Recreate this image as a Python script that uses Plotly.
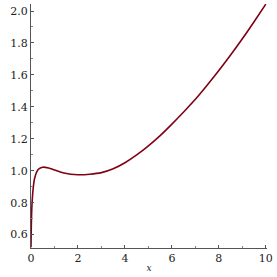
import plotly.graph_objects as go

x_vals = [0, 0.02, 0.05, 0.1, 0.15, 0.25, 0.35, 0.5, 0.75, 1.0, 1.4, 2.0, 2.5, 3.0, 3.5, 4.0,
          4.5, 5.0, 5.5, 6.0, 6.5, 7.0, 7.5, 8.0, 8.5, 9.0, 9.5, 10.0]
y_vals = [0.52, 0.70, 0.81, 0.90, 0.95, 0.995, 1.013, 1.022, 1.017, 1.005, 0.986, 0.975, 0.978,
          0.988, 1.012, 1.05, 1.099, 1.156, 1.22, 1.292, 1.368, 1.447, 1.535, 1.627, 1.724, 1.826,
          1.933, 2.043]
x_ticks = [0, 2, 4, 6, 8, 10]
y_ticks = [0.6, 0.8, 1.0, 1.2, 1.4, 1.6, 1.8, 2.0]

fig = go.Figure()
fig.add_trace(go.Scatter(x=x_vals, y=y_vals, mode="lines",
                         line=dict(color="#800014", width=1.6, shape="spline", smoothing=0.8)))

serif = "DejaVu Serif"
fig.update_layout(
    width=277, height=277,
    margin=dict(l=31, r=10, t=4, b=29),
    plot_bgcolor="white", paper_bgcolor="white",
    showlegend=False,
    font=dict(family=serif, size=11, color="#222"),
)
fig.update_xaxes(range=[0, 10.05], tickvals=x_ticks, ticktext=[str(v) for v in x_ticks],
                 automargin=False,
                 showgrid=False, zeroline=False, showline=True, linecolor="#555", linewidth=1,
                 ticks="inside", ticklen=3, tickcolor="#555",
                 minor=dict(dtick=1, ticks="inside", ticklen=2, tickcolor="#888"),
                 title=dict(text="<i>x</i>", font=dict(family=serif, size=9), standoff=0))
fig.update_yaxes(range=[0.516, 2.044], tickvals=y_ticks, ticktext=["%.1f" % v for v in y_ticks],
                 automargin=False,
                 showgrid=False, zeroline=False, showline=True, linecolor="#555", linewidth=1,
                 ticks="inside", ticklen=3, tickcolor="#555",
                 minor=dict(dtick=0.1, tick0=0, ticks="inside", ticklen=2, tickcolor="#888"))
fig.write_html("out.html", config={"displayModeBar": False},
               post_script="document.body.style.margin='0';document.body.style.padding='0';")
